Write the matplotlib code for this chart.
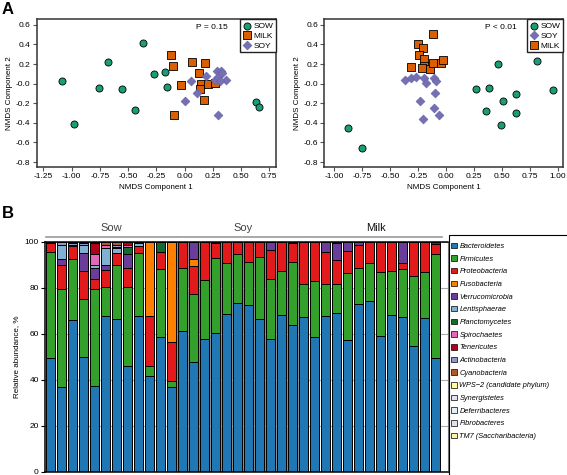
import matplotlib
matplotlib.use("Agg")
import matplotlib.pyplot as plt
import numpy as np
from matplotlib.patches import Patch, Rectangle
from matplotlib.font_manager import FontProperties

plt.rcParams["font.family"] = ["Liberation Sans", "DejaVu Sans"]

# --- panel A: NMDS ordination (diet comparison) ---
a_sow_x = [-1.082, -0.979, -0.754, -0.681, -0.554, -0.439, -0.365, -0.271, -0.176, -0.156, 0.632, 0.659]
a_sow_y = [0.026, -0.413, -0.039, 0.223, -0.052, -0.266, 0.417, 0.094, 0.118, -0.029, -0.185, -0.239]
a_milk_x = [-0.117, -0.100, -0.035, -0.097, 0.066, 0.125, 0.184, 0.145, 0.139, 0.169, 0.204, 0.269]
a_milk_y = [0.294, 0.182, -0.012, -0.317, 0.226, 0.107, 0.209, -0.005, -0.056, -0.165, -0.001, 0.005]
a_soy_x = [0.054, 0.004, 0.107, 0.187, 0.269, 0.299, 0.284, 0.322, 0.299, 0.367, 0.313, 0.330]
a_soy_y = [0.029, -0.181, -0.097, 0.077, 0.039, -0.317, 0.131, 0.131, 0.067, 0.033, 0.026, 0.110]

b_sow_x = [-0.879, -0.753, 0.268, 0.382, 0.353, 0.465, 0.494, 0.509, 0.626, 0.629, 0.815, 0.956]
b_sow_y = [-0.447, -0.661, -0.056, -0.046, -0.283, 0.202, -0.426, -0.178, -0.103, -0.294, 0.236, -0.066]
b_soy_x = [-0.368, -0.315, -0.268, -0.197, -0.182, -0.109, -0.094, -0.103, -0.238, -0.112, -0.062, -0.203]
b_soy_y = [0.036, 0.056, 0.067, 0.056, 0.002, 0.053, 0.029, -0.100, -0.178, -0.253, -0.321, -0.362]
b_milk_x = [-0.312, -0.256, -0.209, -0.247, -0.194, -0.194, -0.212, -0.141, -0.121, -0.115, -0.050, -0.026]
b_milk_y = [0.175, 0.403, 0.362, 0.291, 0.250, 0.185, 0.165, 0.148, 0.216, 0.512, 0.209, 0.240]

# --- panel B: relative abundance per sample (12 Sow, 12 Soy, 12 Milk) ---
groups = ["Sow", "Soy", "Milk"]
phyla = ["Bacteroidetes", "Firmicutes", "Proteobacteria", "Fusobacteria", "Verrucomicrobia",
         "Lentisphaerae", "Planctomycetes", "Spirochaetes", "Tenericutes", "Actinobacteria",
         "Cyanobacteria", "WPS\u22122 (candidate phylum)", "Synergistetes", "Deferribacteres",
         "Fibrobacteres", "TM7 (Saccharibacteria)"]
z12 = [0] * 12
bacteroidetes = [49.5, 36.8, 66.0, 50.0, 37.3, 67.8, 66.4, 45.8, 67.6, 41.6, 58.4, 37.0,
                 61.3, 47.6, 57.6, 60.2, 68.4, 73.5, 72.3, 66.2, 57.8, 68.0, 63.9, 67.1,
                 58.7, 67.8, 69.1, 57.1, 73.0, 74.2, 59.1, 68.1, 67.1, 54.8, 67.0, 49.3]
firmicutes = [46.0, 42.7, 26.5, 25.0, 42.2, 12.5, 23.5, 34.3, 27.4, 4.3, 29.6, 2.3,
              27.1, 29.5, 25.6, 32.6, 22.2, 21.0, 18.9, 27.0, 25.8, 19.2, 27.1, 14.3,
              24.3, 13.6, 12.6, 29.1, 15.7, 16.4, 27.7, 19.1, 20.9, 30.4, 19.8, 45.2]
proteobacteria = [3.8, 10.5, 5.5, 12.2, 4.3, 7.2, 5.2, 8.4, 3.3, 22.0, 7.4, 17.3,
                  11.6, 12.3, 16.8, 6.8, 9.4, 5.5, 8.8, 6.8, 12.8, 12.8, 8.6, 18.6,
                  17.0, 14.3, 10.5, 9.6, 9.9, 9.4, 13.2, 12.8, 2.9, 14.8, 13.2, 4.3]
fusobacteria = [0, 0, 0.6, 0, 0, 0, 0, 0, 0, 32.1, 0, 43.4,
                0, 3.1, 0, 0, 0, 0, 0, 0, 0, 0, 0, 0] + z12
verrucomicrobia = [0, 2.5, 0, 7.8, 4.6, 2.4, 0, 6.0, 0, 0, 0, 0,
                   0, 7.5, 0, 0, 0, 0, 0, 0, 3.6, 0, 0, 0,
                   0, 4.3, 7.1, 4.2, 1.4, 0, 0, 0, 9.1, 0, 0, 0]
lentisphaerae = [0, 6.0, 0, 3.5, 1.4, 7.4, 2.0, 0, 1.0, 0, 0, 0] + z12 + z12
planctomycetes = [0, 0, 0, 0, 0, 0, 0, 3.3, 0, 0, 4.6, 0] + z12 + z12
spirochaetes = [0, 0, 0, 0, 4.7, 1.2, 0, 0.8, 0, 0, 0, 0] + z12 + z12
tenericutes = [0.7, 0, 0, 0, 5.0, 0, 0.8, 1.4, 0, 0, 0, 0,
               0, 0, 0, 0.4, 0, 0, 0, 0, 0, 0, 0.4, 0,
               0, 0, 0.7, 0, 0, 0, 0, 0, 0, 0, 0, 1.2]
actinobacteria = [0, 1.5, 0.8, 1.0, 0, 0, 0.6, 0, 0.7, 0, 0, 0] + z12 + z12
cyanobacteria = [0, 0, 0.6, 0, 0.5, 1.5, 1.5, 0, 0, 0, 0, 0] + z12 + z12
wps2 = z12 + z12 + z12
synergistetes = [0, 0, 0, 0.5, 0, 0, 0, 0, 0, 0, 0, 0] + z12 + z12
deferribacteres = z12 + z12 + z12
fibrobacteres = z12 + z12 + z12
tm7 = z12 + z12 + z12
abundance = [bacteroidetes, firmicutes, proteobacteria, fusobacteria, verrucomicrobia,
             lentisphaerae, planctomycetes, spirochaetes, tenericutes, actinobacteria,
             cyanobacteria, wps2, synergistetes, deferribacteres, fibrobacteres, tm7]

phyla_colors = ["#1f78b4", "#33a02c", "#e31a1c", "#ff7f00", "#6a3d9a", "#80b1d3", "#136b30",
                "#e368b8", "#b0001c", "#8f98c8", "#b15928", "#ffff99", "#e4e2ef", "#e0eef8",
                "#e2e0ea", "#fff2a8"]
c_sow, c_milk, c_soy = "#1b9e77", "#d95f02", "#7570b3"

W, H = 567, 475
fig = plt.figure(figsize=(W / 100, H / 100), dpi=100)


def px_axes(x0, y0, x1, y1):
    return fig.add_axes([x0 / W, 1 - y1 / H, (x1 - x0) / W, (y1 - y0) / H])


def style_nmds(ax, xlim, xticks):
    ax.set_xlim(*xlim)
    ax.set_ylim(-0.85, 0.66)
    ax.set_xticks(xticks)
    ax.set_yticks(np.arange(-0.8, 0.61, 0.2))
    ax.xaxis.set_major_formatter(matplotlib.ticker.FormatStrFormatter("%.2f"))
    ax.yaxis.set_major_formatter(matplotlib.ticker.FormatStrFormatter("%.1f"))
    ax.tick_params(labelsize=6, length=3, width=0.8, color="#555555", pad=1.5)
    for s in ax.spines.values():
        s.set_color("#333333")
        s.set_linewidth(1.1)
    ax.set_xlabel("NMDS Component 1", fontsize=5.8, labelpad=3)
    ax.set_ylabel("NMDS Component 2", fontsize=5.8, labelpad=2)


def nmds_legend(ax, handles):
    leg = ax.legend(handles=handles, loc="upper right", borderaxespad=0, fontsize=6,
                    handletextpad=0.2, labelspacing=0.25, borderpad=0.35, fancybox=False,
                    handlelength=1.0, framealpha=1)
    leg.get_frame().set_edgecolor("#222222")
    leg.get_frame().set_linewidth(1.0)


kw = dict(s=26, linewidths=0.6, zorder=3)
ax1 = px_axes(36.7, 19, 276, 167)
h1 = ax1.scatter(a_sow_x, a_sow_y, marker="o", c=c_sow, edgecolors="black", label="SOW", **kw)
h2 = ax1.scatter(a_milk_x, a_milk_y, marker="s", c=c_milk, edgecolors="black", label="MILK", **kw)
h3 = ax1.scatter(a_soy_x, a_soy_y, marker="D", c=c_soy, edgecolors="#6a65a8", label="SOY",
                 s=20, linewidths=0.5, zorder=3)
style_nmds(ax1, (-1.31, 0.81), np.arange(-1.25, 0.76, 0.25))
nmds_legend(ax1, [h1, h2, h3])
ax1.text(0.666, 0.94, "P = 0.15", transform=ax1.transAxes, fontsize=6, va="center")

ax2 = px_axes(324.3, 19, 563, 167)
g1 = ax2.scatter(b_sow_x, b_sow_y, marker="o", c=c_sow, edgecolors="black", label="SOW", **kw)
g3 = ax2.scatter(b_soy_x, b_soy_y, marker="D", c=c_soy, edgecolors="#6a65a8", label="SOY",
                 s=20, linewidths=0.5, zorder=3)
g2 = ax2.scatter(b_milk_x, b_milk_y, marker="s", c=c_milk, edgecolors="black", label="MILK", **kw)
style_nmds(ax2, (-1.09, 1.045), np.arange(-1.0, 1.01, 0.25))
nmds_legend(ax2, [g1, g3, g2])
ax2.text(0.672, 0.94, "P < 0.01", transform=ax2.transAxes, fontsize=6, va="center")

fig.text(2 / W, 1 - 9 / H, "A", fontsize=12, fontweight="bold", va="center")
fig.text(2 / W, 1 - 213 / H, "B", fontsize=12, fontweight="bold", va="center")

# --- stacked bars ---
ax3 = px_axes(45, 241.7, 448, 471.7)
n = len(bacteroidetes)
x = np.arange(n)
ax3.axvspan(11.5, 23.5, color="#8a8a8a", zorder=0, lw=0)
bottom = np.zeros(n)
for vals, col in zip(abundance, phyla_colors):
    vals = np.array(vals, dtype=float)
    ax3.bar(x, vals, bottom=bottom, width=0.86, color=col, edgecolor="black",
            linewidth=0.7, zorder=2)
    bottom += vals
ax3.set_xlim(-0.48, 36.16)
ax3.set_ylim(0, 100)
ax3.set_xticks([])
ax3.set_yticks([0, 20, 40, 60, 80, 100])
ax3.yaxis.grid(True, color="#aaaaaa", linewidth=0.8, zorder=0)
ax3.set_axisbelow(True)
ax3.tick_params(axis="y", labelsize=6, length=3, width=0.8, pad=1.5)
ax3.set_ylabel("Relative abundance, %", fontsize=5.8, labelpad=3)
for side in ["left", "bottom", "top"]:
    ax3.spines[side].set_linewidth(1.1)
ax3.spines["right"].set_color("#777777")

trans = matplotlib.transforms.blended_transform_factory(ax3.transData, ax3.transAxes)
spans = [(-0.4, 11.5), (11.65, 23.5), (23.65, 35.6)]
label_colors = ["#444444", "#444444", "#111111"]
for name, (s0, s1), lc in zip(groups, spans, label_colors):
    ax3.plot([s0, s1], [1.022, 1.022], color="#999999", lw=1.2, transform=trans, clip_on=False)
    ax3.text((s0 + s1) / 2, 1.058, name, transform=trans, ha="center", va="center",
             fontsize=8, color=lc)

handles = [Patch(facecolor=c, edgecolor="black", linewidth=0.5) for c in phyla_colors]
leg = fig.legend(handles, phyla, loc="upper left", bbox_to_anchor=(451 / W, 1 - 242.5 / H),
                 frameon=False, prop=FontProperties(family="Liberation Sans", style="italic", size=5.3),
                 handlelength=0.8, handleheight=0.8, handletextpad=0.35, labelspacing=0.72,
                 borderpad=0, borderaxespad=0)
fig.patches.append(Rectangle((449 / W, -0.05), 0.5, (475 - 235) / H + 0.05, transform=fig.transFigure,
                             fill=False, edgecolor="black", linewidth=0.8))

fig.savefig("out.png", dpi=100)
